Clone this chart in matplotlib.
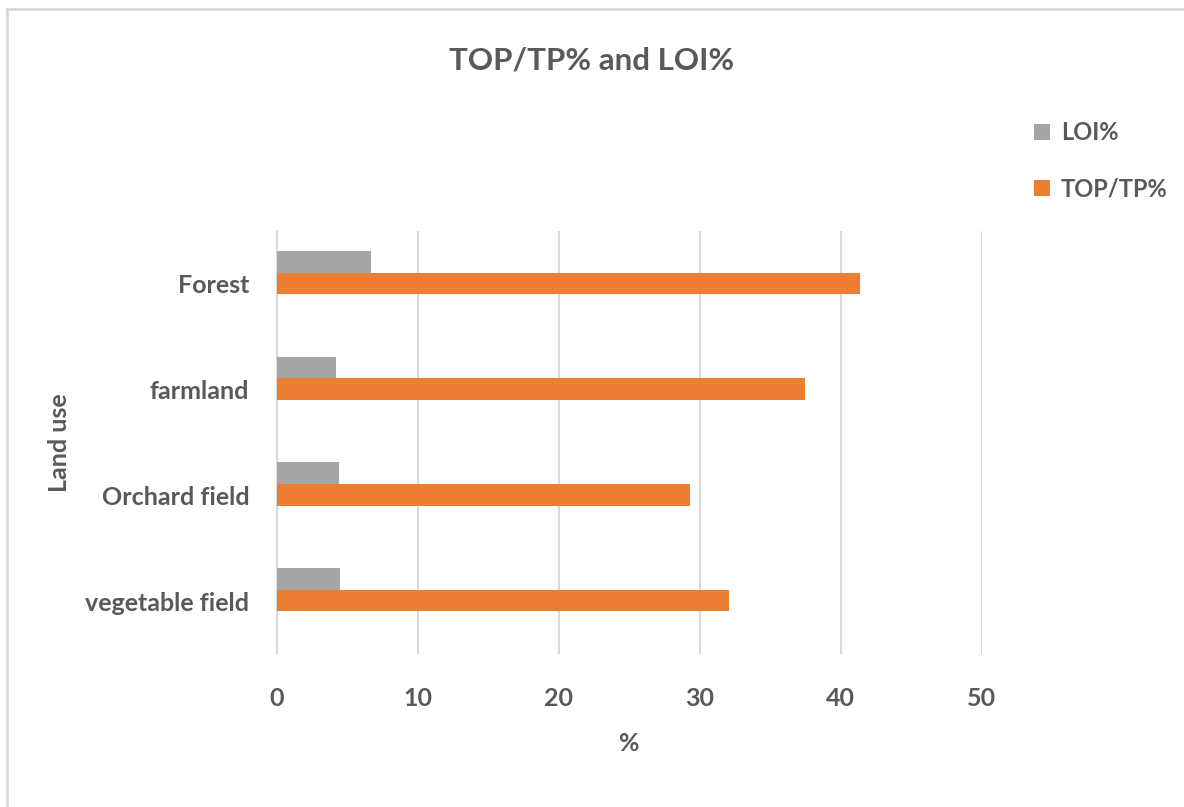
import matplotlib.pyplot as plt
from matplotlib.lines import Line2D
import numpy as np

plt.rcParams['font.family'] = ['Lato', 'DejaVu Sans']
plt.rcParams['font.weight'] = 'bold'

land_use = ['vegetable field', 'Orchard field', 'farmland', 'Forest']
loi = [4.5, 4.4, 4.2, 6.7]
top_tp = [32.05, 29.3, 37.5, 41.35]
x_ticks = [0, 10, 20, 30, 40, 50]

TEXT = '#595959'
GRAY = '#a5a5a5'
ORANGE = '#ed7d31'


def main():
    fig = plt.figure(figsize=(11.84, 8.07), dpi=100)
    ax = fig.add_axes([0.234, 0.1896, 0.595, 0.5242])

    y = np.arange(len(land_use))
    h = 0.204
    shift = 0.107  # Excel leaves the pair sitting a bit above the band centre
    ax.barh(y + shift - h / 2, top_tp, height=h, color=ORANGE, label='TOP/TP%', zorder=3)
    ax.barh(y + shift + h / 2, loi, height=h, color=GRAY, label='LOI%', zorder=3)

    ax.set_xlim(0, 50)
    ax.set_ylim(-0.5, len(land_use) - 0.5)
    ax.set_xticks(x_ticks)
    ax.set_yticks(y)
    ax.set_yticklabels(land_use)
    ax.grid(axis='x', color='#d9d9d9', linewidth=1.5, zorder=0)
    for s in ['top', 'right', 'bottom']:
        ax.spines[s].set_visible(False)
    ax.spines['left'].set_color('#d9d9d9')
    ax.spines['left'].set_linewidth(1.5)
    ax.tick_params(length=0, labelsize=18, colors=TEXT)
    ax.tick_params(axis='y', pad=20)
    ax.tick_params(axis='x', pad=23.5)

    ax.set_xlabel('%', fontsize=18, color=TEXT, fontweight='bold', labelpad=16)
    ax.set_ylabel('Land use', fontsize=18, color=TEXT, fontweight='bold', labelpad=10)
    fig.text(0.5, 0.925, 'TOP/TP% and LOI%', ha='center', va='center',
             fontsize=22.5, color=TEXT, fontweight='bold')

    handles, labels = ax.get_legend_handles_labels()
    fig.legend(handles[::-1], labels[::-1], loc='upper left',
               bbox_to_anchor=(0.855, 0.876), frameon=False, fontsize=17,
               labelcolor=TEXT, handlelength=0.7, handleheight=0.7,
               handletextpad=0.45, labelspacing=1.4)

    # chart border (only top and left visible in the crop)
    fig.add_artist(Line2D([7 / 1184, 1], [1 - 9 / 807, 1 - 9 / 807],
                          transform=fig.transFigure, color='#d9d9d9', linewidth=2))
    fig.add_artist(Line2D([7 / 1184, 7 / 1184], [0, 1 - 9 / 807],
                          transform=fig.transFigure, color='#d9d9d9', linewidth=2))

    fig.savefig('out.png', dpi=100)


if __name__ == '__main__':
    main()
